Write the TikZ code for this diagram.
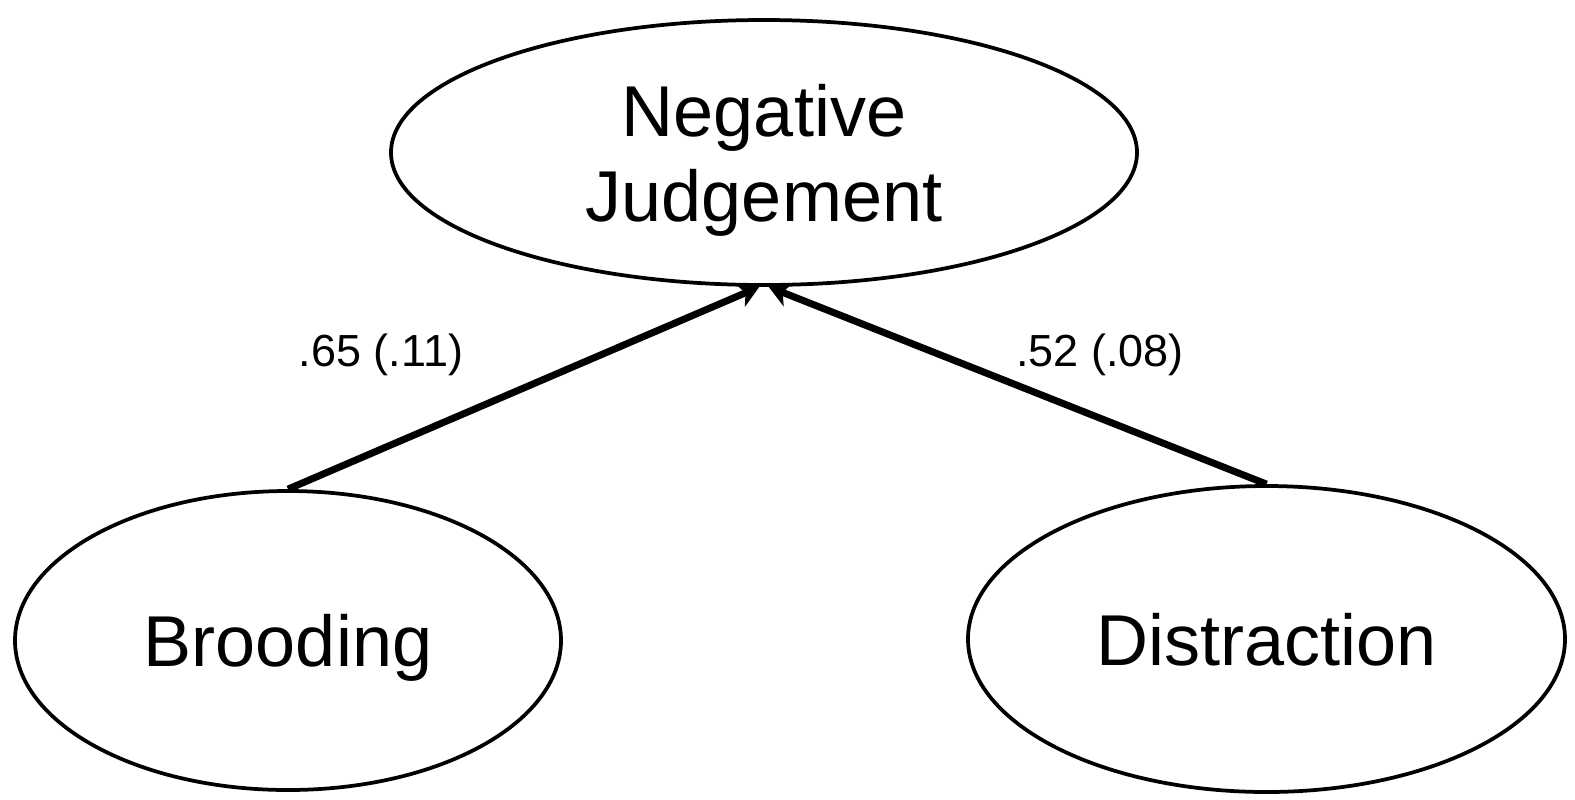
\documentclass[tikz,border=0pt]{standalone}
\usepackage{fontspec}
\setmainfont{Liberation Sans}
\usepackage{tikz}
\usetikzlibrary{shapes.geometric, arrows.meta, positioning, calc}

\begin{document}
\begin{tikzpicture}[
    x=0.02cm, y=-0.02cm,
    ->,
    >={Stealth[length=0.42cm, width=0.5cm, inset=0.12cm]},
    every node/.style={inner sep=0pt},
    latent/.style={draw, ellipse, line width=0.075cm, align=center, text depth=0pt,
        font=\fontsize{41pt}{48.4pt}\selectfont},
    path/.style={line width=0.14cm},
    coef/.style={font=\fontsize{25.6pt}{30pt}\selectfont}
]
\useasboundingbox (0,0) rectangle (1575,799);

% Factors
\node[latent, minimum width=746*0.02cm, minimum height=265*0.02cm] (NJ) at (764,152.5) {Negative\\Judgement};
\node[latent, minimum width=546*0.02cm, minimum height=299*0.02cm] (B) at (288,640.5) {Brooding};
\node[latent, minimum width=597*0.02cm, minimum height=306*0.02cm] (D) at (1266.5,639) {Distraction};

% Paths
\draw[path] (B.north) -- (NJ.268);
\draw[path] (D.north) -- (NJ.272);

% Coefficients
\node[coef] (cB) at (381,355) {.65 (.11)};
\node[coef] (cD) at (1100,355) {.52 (.08)};

\end{tikzpicture}
\end{document}
